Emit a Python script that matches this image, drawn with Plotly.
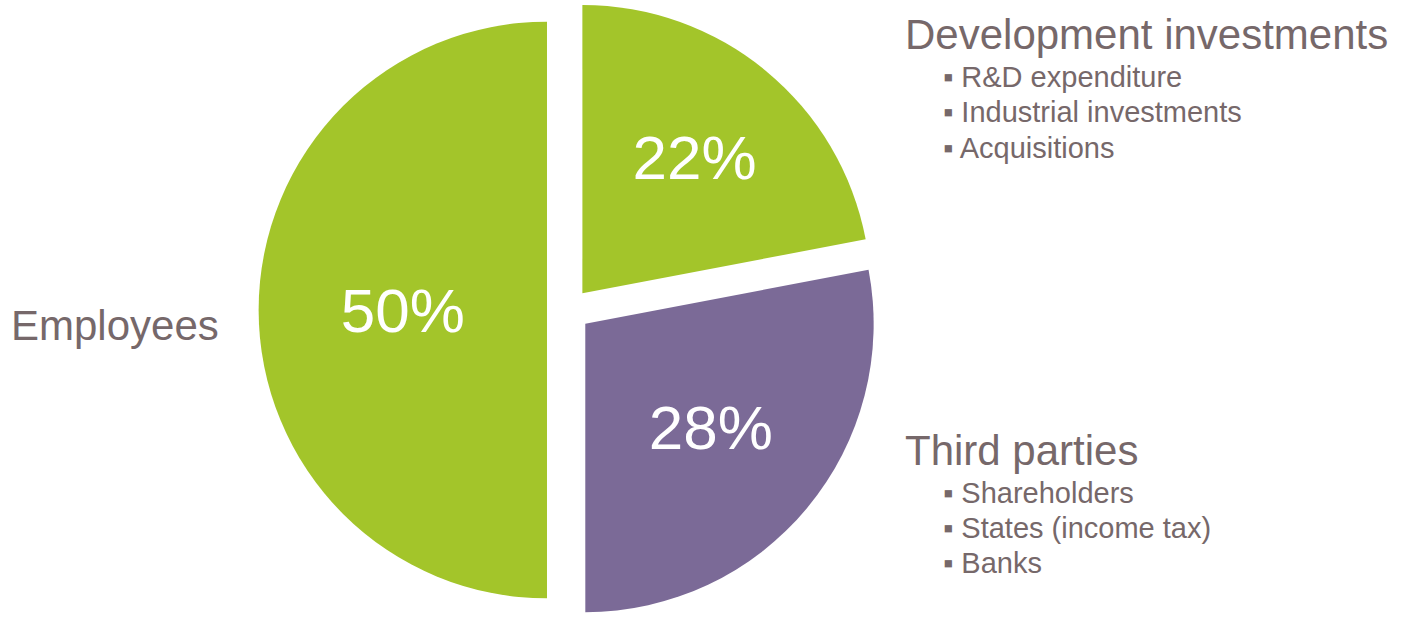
import plotly.graph_objects as go

categories = ["Development investments", "Third parties", "Employees"]
values = [22, 28, 50]
sub_items = {
    "Development investments": ["R&D expenditure", "Industrial investments", "Acquisitions"],
    "Third parties": ["Shareholders", "States (income tax)", "Banks"],
    "Employees": [],
}
colors = ["#A3C52A", "#7B6A97", "#A3C52A"]
pulls = [0.075, 0.075, 0.075]

W, H = 1404, 620
TXT = "#76686A"
FONT = "Liberation Sans, Arial, sans-serif"

fig = go.Figure(go.Pie(
    labels=categories,
    values=values,
    sort=False,
    direction="clockwise",
    rotation=0,
    pull=pulls,
    marker=dict(colors=colors, line=dict(width=0)),
    texttemplate="%{percent:.0%}",
    textposition="inside",
    insidetextorientation="horizontal",
    textfont=dict(family=FONT, size=62, color="white"),
    domain=dict(x=[0.18, 0.63], y=[0, 1]),
    showlegend=False,
    hoverinfo="label+percent",
))

def px(x, y):
    return x / W, 1 - y / H

anns = []
# Employees label
x, y = px(221, 325)
anns.append(dict(x=x, y=y, text=categories[2], xanchor="right", yanchor="middle",
                 font=dict(size=42, color=TXT, family=FONT)))
# Headings with bullets
heads = [(categories[0], 35, [77, 112, 148]), (categories[1], 450, [493, 528, 563])]
for name, hy, ys in heads:
    x, y = px(903, hy)
    anns.append(dict(x=x, y=y, text=name, xanchor="left", yanchor="middle",
                     font=dict(size=42, color=TXT, family=FONT)))
    for item, iy in zip(sub_items[name], ys):
        x, y = px(941, iy)
        anns.append(dict(x=x, y=y, text="▪ " + item, xanchor="left", yanchor="middle",
                         font=dict(size=29, color=TXT, family=FONT)))

for a in anns:
    a.update(xref="paper", yref="paper", showarrow=False)

fig.update_layout(
    width=W, height=H,
    margin=dict(l=0, r=0, t=0, b=0),
    paper_bgcolor="white", plot_bgcolor="white",
    annotations=anns,
)

fig.write_html("out.html")
